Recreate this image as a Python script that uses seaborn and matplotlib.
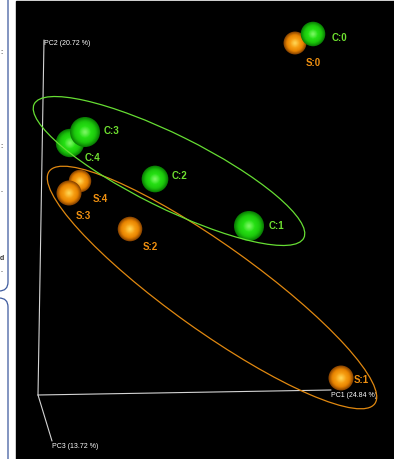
import numpy as np
import pandas as pd
import matplotlib
matplotlib.use('Agg')
import matplotlib.pyplot as plt
import seaborn as sns
from matplotlib.patches import Ellipse, FancyBboxPatch, Rectangle
from matplotlib.colors import LinearSegmentedColormap, to_hex

# projected PCoA scores (screen plane, origin at the axis corner)
samples = ['C:0', 'C:1', 'C:2', 'C:3', 'C:4', 'S:0', 'S:1', 'S:2', 'S:3', 'S:4']
group = ['C', 'C', 'C', 'C', 'C', 'S', 'S', 'S', 'S', 'S']
proj_x = [275, 211, 117, 47, 32, 257, 303, 92, 31, 42]
proj_y = [361, 169, 216, 263, 252, 352, 17, 166, 202, 214]
depth = [0.35, 1.0, 0.6, 1.0, 0.8, 0.15, 0.4, 0.35, 0.4, 0.1]

# axis ends (PC1, PC2, PC3) and labels
axis_end_x = [293, 6, 14]
axis_end_y = [5, 355, -46]
axis_labels = ['PC1 (24.84 %)', 'PC2 (20.72 %)', 'PC3 (13.72 %)']

# group ellipses: centre, full width/height, angle
ell_cx = {'C': 131, 'S': 174}
ell_cy = {'C': 224, 'S': 107.5}
ell_w = {'C': 301, 'S': 400}
ell_h = {'C': 73, 'S': 86}
ell_ang = {'C': -26.4, 'S': -35.5}

sphere_cols = {'C': ['#80f868', '#26e014', '#1cc80c', '#0a8004'],
               'S': ['#ffd858', '#f7a014', '#e88400', '#8c4600']}
label_cols = {'C': '#6fe030', 'S': '#f09010'}
line_cols = {'C': '#66dd33', 'S': '#e08810'}

# label offsets in pixels (dx, dy up)
lab_off = {'C:0': (19, -3), 'C:1': (20, 1), 'C:2': (17, 4), 'C:3': (19, 2), 'C:4': (15, -14),
           'S:0': (11, -19), 'S:1': (13, -1), 'S:2': (13, -17), 'S:3': (7, -22), 'S:4': (13, -17)}

df = pd.DataFrame({'sample': samples, 'group': group, 'x': proj_x, 'y': proj_y, 'depth': depth})

sns.set_style('white')
plt.rcParams['font.family'] = ['Liberation Sans', 'DejaVu Sans']

fig = plt.figure(figsize=(3.94, 4.60), dpi=100)
ax = fig.add_axes([0, 0, 1, 1])
ax.set_xlim(-38, 356)
ax.set_ylim(-64, 396)
ax.axis('off')

# page bits on the left
ax.add_patch(Rectangle((-22, -64), 378, 458, color='black', zorder=0))
ax.add_patch(FancyBboxPatch((-90, 104), 60, 300, boxstyle='round,pad=0,rounding_size=9',
                            fc='white', ec='#3d5a9e', lw=0.9, zorder=1))
ax.add_patch(FancyBboxPatch((-90, -80), 60, 177, boxstyle='round,pad=0,rounding_size=9',
                            fc='white', ec='#3d5a9e', lw=0.9, zorder=1))
for ty, tt in [(343, ':'), (249, ':'), (206, '.'), (138, 'd'), (126, '.')]:
    ax.text(-38, ty, tt, fontsize=5, color='#333333', ha='left', va='center',
            fontweight='bold', zorder=2)

# axes of the 3d view
for ex, ey, lab in zip(axis_end_x, axis_end_y, axis_labels):
    ax.plot([0, ex], [0, ey], color='#d4d4d4', lw=0.8, zorder=2)
    ax.text(ex, ey + 1 if lab.startswith('PC2') else ey - 1, lab, fontsize=5, color='white',
            ha='left', va='top', zorder=2)

# shaded spheres, drawn back to front
n_layers = 14
for _, row in df.sort_values('depth').iterrows():
    cmap = LinearSegmentedColormap.from_list('sph', sphere_cols[row['group']])
    r = 10.8 + 4.2 * row['depth']
    fr = np.linspace(1.0, 0.08, n_layers)
    lay = pd.DataFrame({'x': row['x'], 'y': row['y'], 'layer': range(n_layers)})
    pal = {i: to_hex(cmap(f ** 1.3)) for i, f in enumerate(fr)}
    szs = {i: (2 * r * f * 0.72) ** 2 for i, f in enumerate(fr)}
    sns.scatterplot(data=lay, x='x', y='y', hue='layer', palette=pal, size='layer',
                    sizes=szs, legend=False, linewidth=0, ax=ax, zorder=3)
    dx, dy = lab_off[row['sample']]
    ax.text(row['x'] + dx, row['y'] + dy, row['sample'], fontsize=7, fontweight='bold',
            color=label_cols[row['group']], ha='left', va='center', zorder=5)

# group ellipses
for g in ['S', 'C']:
    ax.add_patch(Ellipse((ell_cx[g], ell_cy[g]), ell_w[g], ell_h[g], angle=ell_ang[g],
                         fill=False, ec=line_cols[g], lw=0.9, zorder=4))

plt.savefig('out.png', dpi=100)
plt.close('all')
